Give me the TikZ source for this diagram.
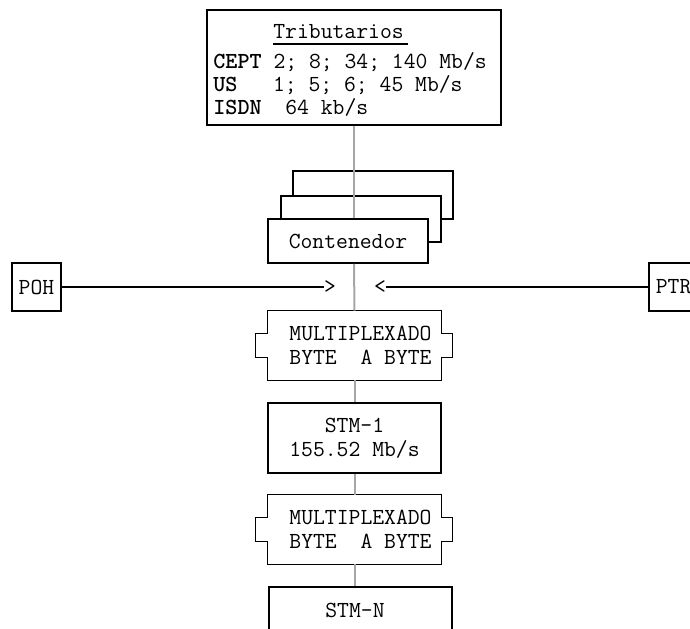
\documentclass[tikz,border=0pt]{standalone}
\usepackage{fontspec}

\begin{document}
\begin{tikzpicture}[x=0.5pt, y=-0.5pt,
    every node/.style={font=\ttfamily\fontsize{11.5}{12}\selectfont, inner sep=0pt},
    box/.style={draw, line width=0.8pt, fill=white},
    boxline/.style={line width=0.8pt},
    vline/.style={gray!70, line width=1pt}]
    \clip (0,0) rectangle (690,628);

    % tributarios
    \node[box, minimum width=147pt, minimum height=57.5pt] (trib) at (354,67.5) {};
    \node[anchor=base west] (tt) at (273,38) {Tributarios};
    \draw[line width=0.6pt] ([yshift=-3pt]tt.base west) -- ([yshift=-3pt, xshift=2pt]tt.base east);
    \node[anchor=base west] (cept) at (213,68) {\textbf{CEPT} 2; 8; 34; 140 Mb/s};
    \node[anchor=base west] (us) at (213,91) {\textbf{US}\ \ \ 1; 5; 6; 45 Mb/s};
    \node[anchor=base west] (isdn) at (213,114) {\textbf{ISDN}\ \ 64 kb/s};

    % contenedores
    \node[box, minimum width=80pt, minimum height=24pt] (back) at (373,195) {};
    \node[box, minimum width=80pt, minimum height=23pt] (mid) at (361,219) {};
    \draw[vline] (trib.south) -- (trib.south |- mid.south);
    \node[box, minimum width=80pt, minimum height=22pt] (cont) at (348,241) {Contenedor};

    % POH y PTR
    \node[box, minimum width=24.5pt, minimum height=24pt] (poh) at (36.5,287) {POH};
    \node[box, anchor=west, text width=33pt, inner xsep=3.5pt, minimum height=24pt, align=left] (ptr) at (648,287) {PTR};
    \node (gt) at (330,287) {>};
    \node (lt) at (380,287) {<};
    \draw[boxline] (poh) -- (gt);
    \draw[boxline] (ptr) -- (lt);

    % multiplexado
    \node[minimum width=86.5pt, minimum height=34.5pt] (m1) at (354.5,345.5) {};
    \node[minimum width=86.5pt, minimum height=35pt, draw, line width=0.8pt, align=center] (stm1) at (354.5,438) {STM-1\\155.52 Mb/s};
    \node[minimum width=86.5pt, minimum height=34.5pt] (m2) at (354.5,529.5) {};
    \node[box, minimum width=91.5pt, minimum height=45pt] (stmn) at (360.5,632) {};
    \node (stmnt) at (355,610) {STM-N};

    \foreach \m in {m1,m2} {
        \draw[boxline] (\m.north west) -- (\m.north east) -- ([yshift=6pt]\m.east)
            -- ++(5.5pt,0) -- ++(0,-12pt) -- ++(-5.5pt,0) -- (\m.south east)
            -- (\m.south west) -- ([yshift=-6pt]\m.west) -- ++(-6pt,0)
            -- ++(0,12pt) -- ++(6pt,0) -- cycle;
        \node[align=center] at ([xshift=3pt]\m.center) {MULTIPLEXADO\\BYTE\ \ A BYTE};
    }

    \draw[vline] (cont.south -| trib.south) -- (m1.north);
    \draw[vline] (m1) -- (stm1);
    \draw[vline] (stm1) -- (m2);
    \draw[vline] (m2.south) -- (m2.south |- stmn.north);
\end{tikzpicture}
\end{document}
